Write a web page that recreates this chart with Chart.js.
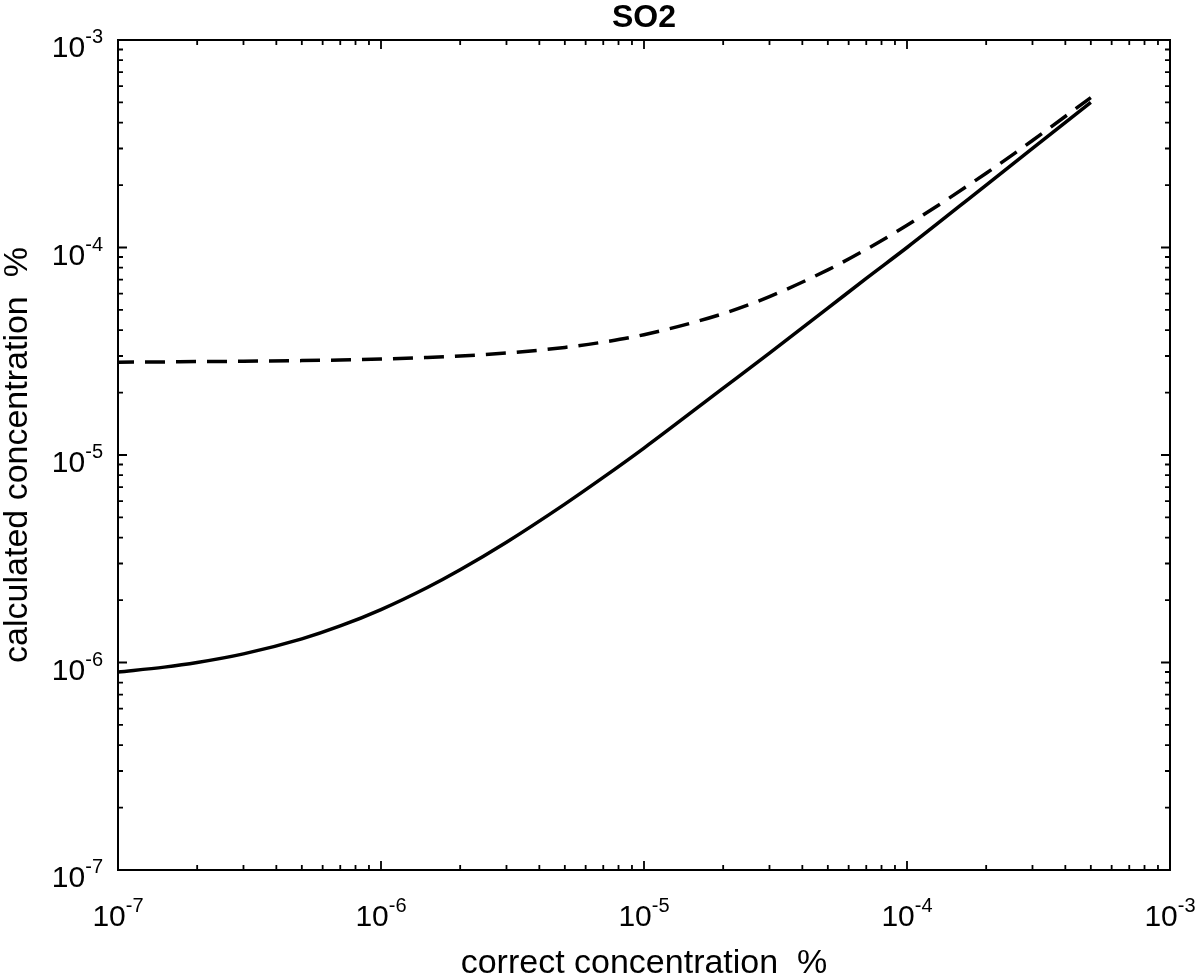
<!DOCTYPE html>
<html><head><meta charset="utf-8">
<script src="https://cdn.jsdelivr.net/npm/chart.js@4.4.1/dist/chart.umd.min.js"></script>
<style>html,body{margin:0;padding:0;background:#fff;overflow:hidden}canvas{display:block}</style>
</head><body>
<canvas id="c" width="1200" height="977"></canvas>
<script>
const titleText = 'SO2';
const xAxisLabel = 'correct concentration  %';
const yAxisLabel = 'calculated concentration  %';

const correctConc = [1e-7, 1.5e-7, 2e-7, 3e-7, 5e-7, 7e-7, 1e-6, 1.5e-6, 2e-6, 3e-6, 5e-6, 7e-6, 1e-5, 2e-5, 3e-5, 5e-5, 7e-5, 1e-4, 2e-4, 3e-4, 5e-4];
const solidCalc = [9.0e-7, 9.5e-7, 1.0e-6, 1.1e-6, 1.3e-6, 1.5e-6, 1.8e-6, 2.3e-6, 2.8e-6, 3.8e-6, 5.8e-6, 7.8e-6, 1.08e-5, 2.1e-5, 3.1e-5, 5.1e-5, 7.1e-5, 1.0e-4, 2.0e-4, 3.0e-4, 5.0e-4];
const dashedCalc = [2.80e-5, 2.81e-5, 2.82e-5, 2.83e-5, 2.85e-5, 2.87e-5, 2.90e-5, 2.95e-5, 3.00e-5, 3.10e-5, 3.30e-5, 3.50e-5, 3.80e-5, 4.80e-5, 5.80e-5, 7.80e-5, 9.80e-5, 1.28e-4, 2.28e-4, 3.28e-4, 5.28e-4];

const xTickValues = [1e-7, 1e-6, 1e-5, 1e-4, 1e-3];
const xTickExponents = ['-7', '-6', '-5', '-4', '-3'];
const yTickValues = [1e-7, 1e-6, 1e-5, 1e-4, 1e-3];
const yTickExponents = ['-7', '-6', '-5', '-4', '-3'];

const FONT = '"Liberation Sans", Arial, Helvetica, sans-serif';
const INK = '#000';

function minorValues(majors) {
  const out = [];
  for (let i = 0; i < majors.length - 1; i++) {
    for (let m = 2; m <= 9; m++) out.push(m * majors[i]);
  }
  return out;
}

function drawPow(ctx, x, baseline, exp, align) {
  ctx.font = '30px ' + FONT;
  const w1 = ctx.measureText('10').width;
  ctx.font = '20px ' + FONT;
  const w2 = ctx.measureText(exp).width;
  const total = w1 + w2;
  const start = align === 'center' ? x - total / 2 : x - total;
  ctx.textAlign = 'left';
  ctx.textBaseline = 'alphabetic';
  ctx.font = '30px ' + FONT;
  ctx.fillText('10', start, baseline);
  ctx.font = '20px ' + FONT;
  ctx.fillText(exp, start + w1, baseline - 14);
}

const axesPlugin = {
  id: 'matlabAxes',
  afterDraw(chart) {
    const ctx = chart.ctx;
    const a = chart.chartArea;
    const xs = chart.scales.x, ys = chart.scales.y;
    ctx.save();
    ctx.strokeStyle = INK;
    ctx.fillStyle = INK;
    // frame
    ctx.lineWidth = 2;
    ctx.strokeRect(a.left, a.top, a.right - a.left, a.bottom - a.top);
    // ticks
    const drawX = (v, len) => {
      const px = xs.getPixelForValue(v);
      ctx.beginPath();
      ctx.moveTo(px, a.bottom); ctx.lineTo(px, a.bottom - len);
      ctx.moveTo(px, a.top); ctx.lineTo(px, a.top + len);
      ctx.stroke();
    };
    const drawY = (v, len) => {
      const py = ys.getPixelForValue(v);
      ctx.beginPath();
      ctx.moveTo(a.left, py); ctx.lineTo(a.left + len, py);
      ctx.moveTo(a.right, py); ctx.lineTo(a.right - len, py);
      ctx.stroke();
    };
    ctx.lineWidth = 1.8;
    xTickValues.forEach(v => drawX(v, 9));
    minorValues(xTickValues).forEach(v => drawX(v, 5));
    yTickValues.forEach(v => drawY(v, 9));
    minorValues(yTickValues).forEach(v => drawY(v, 5));
    // tick labels
    xTickValues.forEach((v, i) => drawPow(ctx, xs.getPixelForValue(v), a.bottom + 56, xTickExponents[i], 'center'));
    yTickValues.forEach((v, i) => drawPow(ctx, a.left - 15, ys.getPixelForValue(v) + 17, yTickExponents[i], 'right'));
    // title
    const cx = (a.left + a.right) / 2;
    ctx.textAlign = 'center';
    ctx.textBaseline = 'alphabetic';
    ctx.font = 'bold 32px ' + FONT;
    ctx.fillText(titleText, cx, a.top - 13);
    // x label
    ctx.font = '34px ' + FONT;
    ctx.fillText(xAxisLabel, cx, a.bottom + 103);
    // y label
    ctx.save();
    ctx.translate(a.left - 91, (a.top + a.bottom) / 2);
    ctx.rotate(-Math.PI / 2);
    ctx.fillText(yAxisLabel, 0, 0);
    ctx.restore();
    ctx.restore();
  }
};

new Chart(document.getElementById('c'), {
  type: 'line',
  data: {
    datasets: [
      {
        label: 'solid',
        data: correctConc.map((x, i) => ({ x: x, y: solidCalc[i] })),
        borderColor: INK, borderWidth: 3.5, pointRadius: 0,
        cubicInterpolationMode: 'monotone', fill: false
      },
      {
        label: 'dashed',
        data: correctConc.map((x, i) => ({ x: x, y: dashedCalc[i] })),
        borderColor: INK, borderWidth: 3.5, pointRadius: 0,
        borderDash: [20, 11], borderDashOffset: 4,
        cubicInterpolationMode: 'monotone', fill: false
      }
    ]
  },
  options: {
    responsive: false,
    animation: false,
    devicePixelRatio: 1,
    layout: { padding: { left: 118, right: 30, top: 40, bottom: 107 } },
    plugins: { legend: { display: false }, tooltip: { enabled: false }, title: { display: false } },
    scales: {
      x: { type: 'logarithmic', min: 1e-7, max: 1e-3, display: false },
      y: { type: 'logarithmic', min: 1e-7, max: 1e-3, display: false }
    }
  },
  plugins: [axesPlugin]
});
</script>
</body></html>
